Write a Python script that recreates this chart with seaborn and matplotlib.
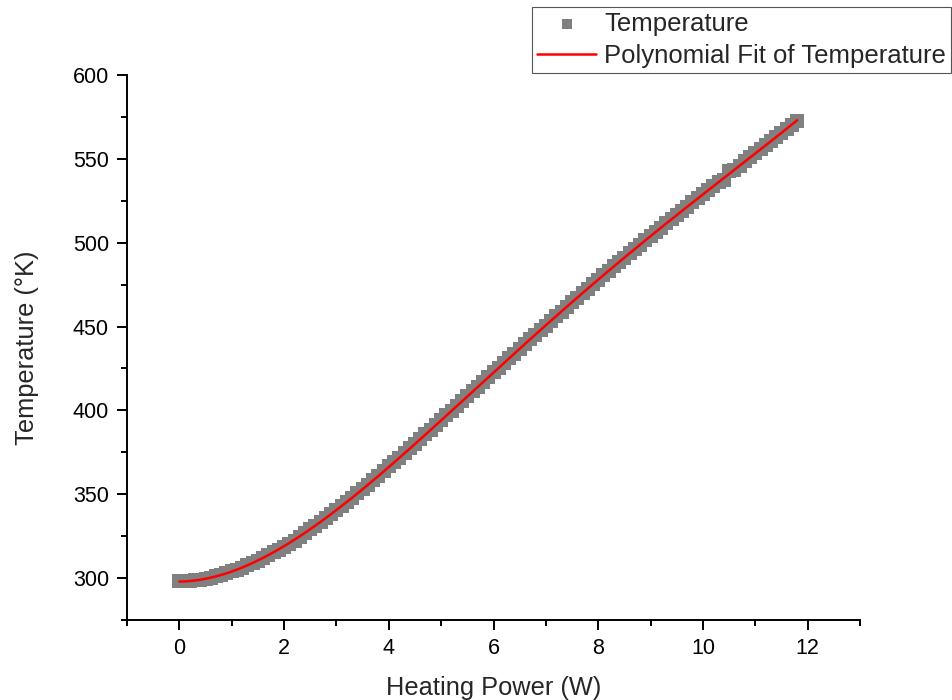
import numpy as np
import pandas as pd
import matplotlib
matplotlib.use("Agg")
import matplotlib.pyplot as plt
import seaborn as sns

# Measured heater power (W) and resulting temperature (K)
power = [
    0.0, 0.1, 0.2, 0.3, 0.4, 0.5, 0.6, 0.7, 0.8, 0.9,
    1.0, 1.1, 1.2, 1.3, 1.4, 1.5, 1.6, 1.7, 1.8, 1.9,
    2.0, 2.1, 2.2, 2.3, 2.4, 2.5, 2.6, 2.7, 2.8, 2.9,
    3.0, 3.1, 3.2, 3.3, 3.4, 3.5, 3.6, 3.7, 3.8, 3.9,
    4.0, 4.1, 4.2, 4.3, 4.4, 4.5, 4.6, 4.7, 4.8, 4.9,
    5.0, 5.1, 5.2, 5.3, 5.4, 5.5, 5.6, 5.7, 5.8, 5.9,
    6.0, 6.1, 6.2, 6.3, 6.4, 6.5, 6.6, 6.7, 6.8, 6.9,
    7.0, 7.1, 7.2, 7.3, 7.4, 7.5, 7.6, 7.7, 7.8, 7.9,
    8.0, 8.1, 8.2, 8.3, 8.4, 8.5, 8.6, 8.7, 8.8, 8.9,
    9.0, 9.1, 9.2, 9.3, 9.4, 9.5, 9.6, 9.7, 9.8, 9.9,
    10.0, 10.1, 10.2, 10.3, 10.4, 10.5, 10.6, 10.7, 10.8, 10.9,
    11.0, 11.1, 11.2, 11.3, 11.4, 11.5, 11.6, 11.7, 11.8,
]
temperature = [
    298.0, 298.1, 298.3, 298.6, 299.0, 299.6, 300.3, 301.1, 302.0, 303.0,
    304.0, 305.1, 306.3, 307.6, 308.9, 310.4, 311.9, 313.6, 315.3, 317.0,
    318.8, 320.6, 322.4, 324.5, 326.8, 329.3, 331.2, 333.3, 335.8, 338.1,
    340.5, 342.9, 345.4, 347.9, 350.5, 353.1, 355.7, 358.3, 361.0, 363.9,
    366.8, 369.3, 371.8, 374.5, 377.3, 380.1, 382.9, 385.7, 388.5, 391.3,
    394.1, 397.2, 399.9, 402.7, 405.6, 408.4, 411.3, 414.1, 417.0, 419.8,
    422.6, 425.4, 428.2, 431.0, 433.8, 436.6, 439.4, 442.3, 445.0, 447.7,
    450.5, 453.3, 456.1, 458.9, 461.7, 464.6, 467.1, 469.8, 472.5, 475.1,
    477.8, 480.5, 483.1, 485.8, 488.4, 491.0, 493.6, 496.2, 498.8, 501.4,
    504.0, 506.6, 509.0, 511.5, 514.0, 516.5, 519.0, 521.5, 524.0, 526.5,
    529.0, 531.4, 533.9, 536.3, 537.5, 542.5, 543.6, 546.0, 548.5, 550.9,
    553.3, 555.7, 558.1, 560.5, 562.9, 565.3, 567.7, 570.1, 572.8,
]

x_ticks = [0, 2, 4, 6, 8, 10, 12]
y_ticks = [300, 350, 400, 450, 500, 550, 600]

sns.set_style("ticks")
plt.rcParams["font.family"] = ["Liberation Sans", "DejaVu Sans"]

data = pd.DataFrame({"power": power, "temperature": temperature})

# Polynomial fit of the measurements
coef = np.polyfit(data["power"], data["temperature"], 4)
fit_x = np.linspace(min(power), max(power), 300)
fit = pd.DataFrame({"power": fit_x, "temperature": np.polyval(coef, fit_x)})

fig = plt.figure(figsize=(9.52, 7.0), dpi=100)
ax = fig.add_axes([0.1334, 0.1143, 0.77, 0.7786])

sns.scatterplot(data=data, x="power", y="temperature", ax=ax, marker="s",
                s=92, color="#808080", linewidth=0, label="Temperature",
                legend=False, zorder=2)
sns.lineplot(data=fit, x="power", y="temperature", ax=ax, color="#ff0000",
             linewidth=1.8, label="Polynomial Fit of Temperature",
             legend=False, zorder=3)

ax.set_xlim(-1, 13)
ax.set_ylim(275, 600)
ax.set_xticks(x_ticks)
ax.set_yticks(y_ticks)
ax.set_xticks(np.arange(-1, 14, 2), minor=True)
ax.set_yticks(np.arange(275, 601, 50), minor=True)

sns.despine(ax=ax)
for side in ("left", "bottom"):
    ax.spines[side].set_linewidth(1.4)
    ax.spines[side].set_color("black")

ax.tick_params(axis="both", which="major", direction="out", length=7,
               width=1.4, labelsize=15.5, pad=6, colors="black")
ax.tick_params(axis="both", which="minor", direction="out", length=4,
               width=1.4, colors="black")

ax.set_xlabel("Heating Power (W)", fontsize=18.3, labelpad=12)
ax.set_ylabel("Temperature (\u00b0K)", fontsize=18.3, labelpad=24)

handles, labels = ax.get_legend_handles_labels()
leg = fig.legend(handles, labels, loc="upper right",
                 bbox_to_anchor=(0.999, 0.99), fontsize=18.5,
                 frameon=True, fancybox=False, framealpha=1,
                 edgecolor="#555555", borderpad=0.2, labelspacing=0.3,
                 handlelength=2.3, handletextpad=0.3, borderaxespad=0,
                 markerscale=0.75)
leg.get_frame().set_linewidth(0.8)

fig.savefig("out.png", dpi=100)
